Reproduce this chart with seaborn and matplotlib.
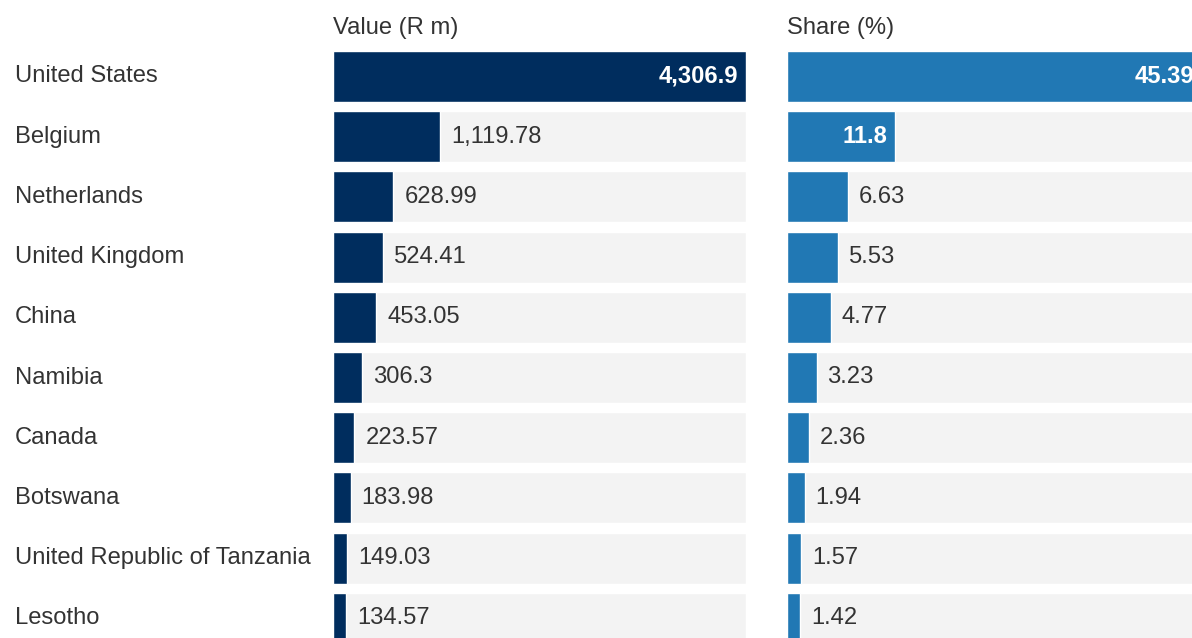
import matplotlib
matplotlib.use("Agg")
import matplotlib.pyplot as plt
import seaborn as sns
import pandas as pd

countries = ["United States", "Belgium", "Netherlands", "United Kingdom", "China",
             "Namibia", "Canada", "Botswana", "United Republic of Tanzania", "Lesotho"]
values = [4306.9, 1119.78, 628.99, 524.41, 453.05, 306.3, 223.57, 183.98, 149.03, 134.57]
shares = [45.39, 11.8, 6.63, 5.53, 4.77, 3.23, 2.36, 1.94, 1.57, 1.42]

sns.set_theme(style="white")
plt.rcParams['font.family'] = ['Liberation Sans', 'DejaVu Sans']

W, H = 1192, 638
fig = plt.figure(figsize=(W / 100, H / 100), dpi=100)

row_h = 60.2
top_px = 76.5 - row_h / 2
ax_h_px = row_h * len(countries)

def make_ax(x0, width):
    return fig.add_axes([x0 / W, 1 - (top_px + ax_h_px) / H, width / W, ax_h_px / H])

ax1 = make_ax(333, 413)
ax2 = make_ax(787, 415)

TXT = "#333333"
FS = 17.1

def panel(ax, vals, color, header, inside_min):
    df = pd.DataFrame({"country": countries, "v": vals, "track": [max(vals)] * len(vals)})
    sns.barplot(data=df, y="country", x="track", orient="h", color="#f3f3f3",
                width=0.85, ax=ax, saturation=1)
    sns.barplot(data=df, y="country", x="v", orient="h", color=color,
                width=0.85, ax=ax, saturation=1)
    ax.set_xlim(0, max(vals))
    ax.set_ylim(len(vals) - 0.5, -0.5)
    ax.set_xlabel("")
    ax.set_ylabel("")
    ax.set_xticks([])
    ax.set_yticks([])
    for s in ax.spines.values():
        s.set_visible(False)
    scale = max(vals) / ax.get_window_extent().width
    for i, v in enumerate(vals):
        lab = f"{v:,}"
        if v >= inside_min:
            ax.text(v - 8 * scale, i, lab, ha="right", va="center", color="white",
                    fontsize=FS, fontweight="bold")
        else:
            ax.text(v + 11 * scale, i, lab, ha="left", va="center", color=TXT,
                    fontsize=FS)
    ax.text(0, -0.5 - 0.3, header, ha="left", va="center", color=TXT, fontsize=FS,
            transform=ax.transData, clip_on=False)

panel(ax1, values, "#002d5e", "Value (R m)", 2000)
panel(ax2, shares, "#2178b4", "Share (%)", 10)

for i, c in enumerate(countries):
    y = 1 - (76.5 + row_h * i) / H
    fig.text(15 / W, y, c, ha="left", va="center", color=TXT, fontsize=FS)

fig.savefig("out.png", dpi=100)
